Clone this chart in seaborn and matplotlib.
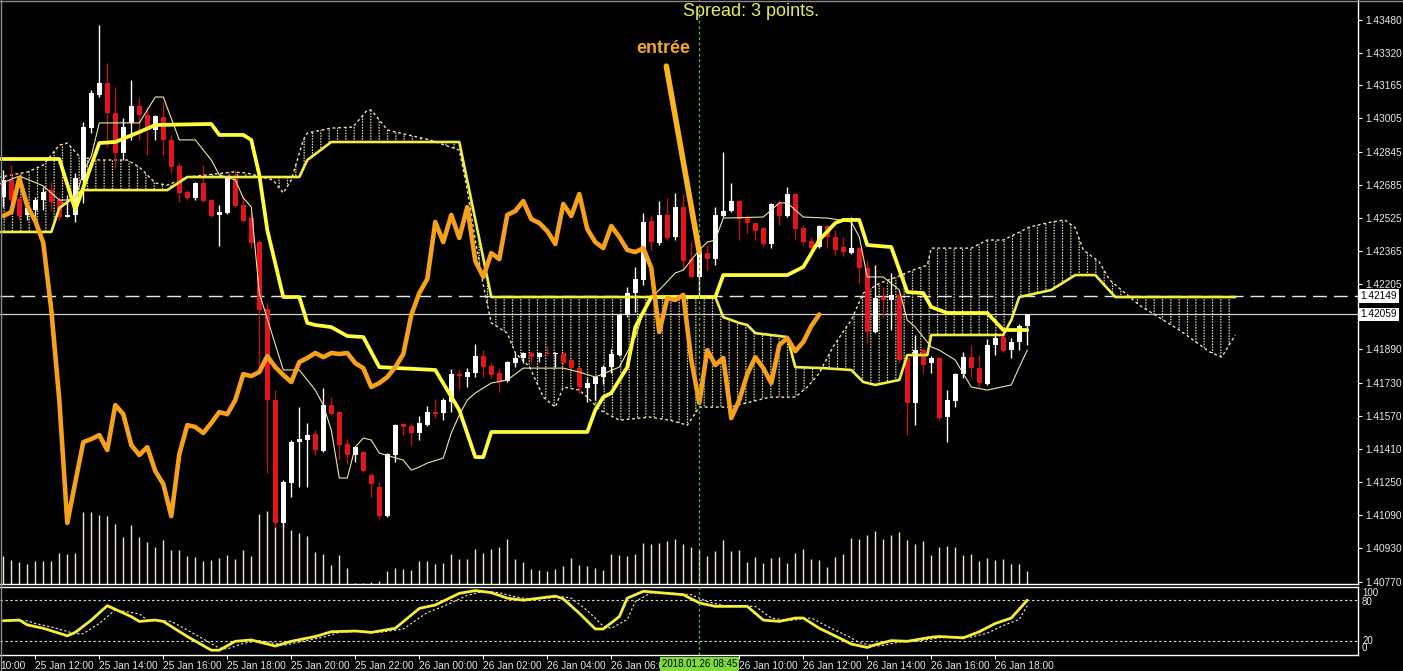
import numpy as np
import pandas as pd
import matplotlib
matplotlib.use("Agg")
import matplotlib.pyplot as plt
import matplotlib.transforms as mtransforms
from matplotlib.lines import Line2D
import seaborn as sns

# EURUSD-like 15 min bars, bar 0 = 25 Jan 11:00, bar 128 = 26 Jan 19:00
open_ = [1.42626, 1.42708, 1.42616, 1.42539, 1.42563, 1.42611, 1.42659, 1.42611, 1.42529, 1.42539,
         1.42708, 1.42958, 1.43118, 1.43176, 1.43031, 1.42838, 1.42983, 1.43065, 1.43021, 1.42949,
         1.43012, 1.42901, 1.42775, 1.42650, 1.42621, 1.42693, 1.42611, 1.42539, 1.42548, 1.42717,
         1.42587, 1.42524, 1.42408, 1.42085, 1.41646, 1.41053, 1.41246, 1.41443, 1.41453, 1.41482,
         1.41400, 1.41622, 1.41588, 1.41434, 1.41381, 1.41395, 1.41284, 1.41226, 1.41086, 1.41381,
         1.41530, 1.41521, 1.41487, 1.41525, 1.41588, 1.41583, 1.41636, 1.41771, 1.41757, 1.41776,
         1.41858, 1.41810, 1.41776, 1.41738, 1.41824, 1.41849, 1.41873, 1.41853, 1.41873, 1.41868,
         1.41873, 1.41839, 1.41800, 1.41704, 1.41723, 1.41757, 1.41805, 1.41863, 1.42056, 1.42162,
         1.42225, 1.42510, 1.42404, 1.42539, 1.42433, 1.42577, 1.42326, 1.42240, 1.42355, 1.42326,
         1.42534, 1.42558, 1.42606, 1.42524, 1.42500, 1.42476, 1.42399, 1.42592, 1.42534, 1.42640,
         1.42476, 1.42413, 1.42384, 1.42486, 1.42433, 1.42384, 1.42355, 1.42379, 1.42283, 1.41974,
         1.42143, 1.42129, 1.42153, 1.41849, 1.41632, 1.41887, 1.41824, 1.41849, 1.41564, 1.41641,
         1.41771, 1.41853, 1.41800, 1.41723, 1.41911, 1.41950, 1.41887, 1.41926, 1.42003]
high = [1.42756, 1.42780, 1.42626, 1.42597, 1.42626, 1.42674, 1.42698, 1.42626, 1.42635, 1.42741,
        1.42987, 1.43142, 1.43455, 1.43272, 1.43156, 1.43007, 1.43190, 1.43103, 1.43060, 1.43021,
        1.43084, 1.42925, 1.42790, 1.42659, 1.42698, 1.42780, 1.42616, 1.42587, 1.42722, 1.42756,
        1.42635, 1.42548, 1.42418, 1.42114, 1.41694, 1.41260, 1.41453, 1.41612, 1.41535, 1.41501,
        1.41704, 1.41660, 1.41593, 1.41458, 1.41424, 1.41400, 1.41294, 1.41250, 1.41390, 1.41530,
        1.41535, 1.41535, 1.41569, 1.41617, 1.41651, 1.41656, 1.41796, 1.41791, 1.41800, 1.41916,
        1.41887, 1.41824, 1.41800, 1.41834, 1.41873, 1.41878, 1.41882, 1.41878, 1.41907, 1.41878,
        1.41878, 1.41849, 1.41805, 1.41752, 1.41762, 1.41815, 1.41892, 1.42061, 1.42191, 1.42288,
        1.42548, 1.42539, 1.42606, 1.42621, 1.42645, 1.42640, 1.42408, 1.42384, 1.42394, 1.42577,
        1.42843, 1.42693, 1.42611, 1.42539, 1.42505, 1.42481, 1.42597, 1.42611, 1.42674, 1.42645,
        1.42490, 1.42433, 1.42490, 1.42490, 1.42466, 1.42433, 1.42529, 1.42384, 1.42321, 1.42297,
        1.42191, 1.42259, 1.42177, 1.41853, 1.41960, 1.41897, 1.41858, 1.41858, 1.41694, 1.41776,
        1.41878, 1.41911, 1.41863, 1.41940, 1.41969, 1.41969, 1.41945, 1.42013, 1.42061]
low = [1.42577, 1.42597, 1.42515, 1.42515, 1.42515, 1.42563, 1.42563, 1.42515, 1.42529, 1.42505,
       1.42597, 1.42934, 1.43108, 1.42867, 1.42765, 1.42804, 1.42901, 1.42901, 1.42828, 1.42901,
       1.42828, 1.42741, 1.42601, 1.42611, 1.42611, 1.42601, 1.42529, 1.42389, 1.42543, 1.42577,
       1.42505, 1.42379, 1.41791, 1.41294, 1.41033, 1.41033, 1.41178, 1.41226, 1.41226, 1.41381,
       1.41395, 1.41573, 1.41356, 1.41337, 1.41347, 1.41298, 1.41178, 1.41072, 1.41081, 1.41347,
       1.41477, 1.41429, 1.41453, 1.41520, 1.41559, 1.41549, 1.41588, 1.41699, 1.41709, 1.41757,
       1.41757, 1.41752, 1.41685, 1.41733, 1.41805, 1.41824, 1.41824, 1.41829, 1.41863, 1.41805,
       1.41815, 1.41791, 1.41680, 1.41636, 1.41646, 1.41723, 1.41776, 1.41858, 1.42046, 1.42071,
       1.42201, 1.42370, 1.42394, 1.42418, 1.42418, 1.42273, 1.42235, 1.42138, 1.42273, 1.42297,
       1.42529, 1.42553, 1.42418, 1.42452, 1.42418, 1.42389, 1.42379, 1.42490, 1.42529, 1.42423,
       1.42394, 1.42374, 1.42379, 1.42379, 1.42346, 1.42341, 1.42350, 1.42211, 1.41921, 1.41969,
       1.42046, 1.41984, 1.41824, 1.41477, 1.41525, 1.41776, 1.41776, 1.41549, 1.41443, 1.41612,
       1.41752, 1.41757, 1.41709, 1.41719, 1.41863, 1.41878, 1.41849, 1.41887, 1.41911]
close = [1.42708, 1.42611, 1.42534, 1.42572, 1.42611, 1.42650, 1.42601, 1.42529, 1.42539, 1.42717,
         1.42963, 1.43127, 1.43176, 1.43031, 1.42838, 1.42963, 1.43065, 1.43021, 1.42949, 1.43016,
         1.42901, 1.42770, 1.42645, 1.42621, 1.42693, 1.42606, 1.42534, 1.42553, 1.42717, 1.42582,
         1.42510, 1.42404, 1.42080, 1.41646, 1.41053, 1.41250, 1.41443, 1.41458, 1.41477, 1.41405,
         1.41622, 1.41578, 1.41429, 1.41381, 1.41419, 1.41303, 1.41241, 1.41086, 1.41385, 1.41525,
         1.41516, 1.41487, 1.41535, 1.41588, 1.41578, 1.41646, 1.41771, 1.41762, 1.41781, 1.41858,
         1.41805, 1.41767, 1.41733, 1.41829, 1.41849, 1.41873, 1.41853, 1.41873, 1.41868, 1.41873,
         1.41824, 1.41800, 1.41709, 1.41728, 1.41757, 1.41805, 1.41868, 1.42056, 1.42162, 1.42230,
         1.42505, 1.42408, 1.42539, 1.42428, 1.42577, 1.42317, 1.42240, 1.42355, 1.42326, 1.42539,
         1.42558, 1.42606, 1.42519, 1.42500, 1.42461, 1.42399, 1.42592, 1.42534, 1.42640, 1.42471,
         1.42408, 1.42379, 1.42486, 1.42433, 1.42370, 1.42360, 1.42379, 1.42283, 1.41974, 1.42138,
         1.42129, 1.42153, 1.41839, 1.41632, 1.41887, 1.41815, 1.41849, 1.41559, 1.41646, 1.41771,
         1.41853, 1.41800, 1.41728, 1.41911, 1.41945, 1.41882, 1.41926, 1.42003, 1.42059]
tick_volume = [280, 240, 220, 200, 230, 230, 230, 310, 300, 310,
               720, 720, 690, 680, 600, 470, 590, 470, 420, 370,
               440, 340, 340, 280, 270, 230, 240, 260, 290, 250,
               340, 280, 700, 730, 570, 600, 540, 510, 480, 320,
               300, 190, 290, 160, 5, 10, 20, 30, 130, 160,
               150, 140, 230, 230, 200, 210, 300, 250, 250, 350,
               310, 350, 370, 450, 250, 220, 150, 140, 130, 150,
               180, 260, 190, 180, 160, 140, 300, 290, 280, 300,
               410, 400, 410, 430, 450, 400, 370, 340, 280, 330,
               440, 330, 340, 220, 270, 210, 260, 270, 210, 310,
               350, 250, 240, 170, 270, 300, 460, 450, 490, 530,
               450, 490, 520, 440, 400, 430, 290, 370, 380, 370,
               290, 300, 230, 260, 240, 250, 200, 200, 130]

# Ichimoku lines (bar index, price)
tenkan_x = [-1, 2, 5, 7, 9, 10, 11, 12, 17, 19, 20, 22, 24, 26, 27, 29, 30, 31, 32, 35,
            37, 39, 40, 41, 42, 43, 44, 45, 46, 47, 50, 51, 52, 53, 55, 56, 57, 58, 59, 61,
            63, 65, 70, 72, 74, 77, 79, 80, 81, 82, 84, 85, 87, 88, 89, 90, 95, 96, 97, 98,
            100, 103, 106, 107, 108, 110, 112, 113, 114, 116, 117, 119, 121, 123, 126, 127, 128]
tenkan = [1.42679, 1.42727, 1.42679, 1.42611, 1.42611, 1.42746, 1.42823, 1.42983, 1.42983, 1.43108,
          1.43108, 1.42901, 1.42901, 1.42804, 1.42732, 1.42708, 1.42621, 1.42577, 1.42162, 1.41791,
          1.41791, 1.41694, 1.41622, 1.41501, 1.41270, 1.41270, 1.41419, 1.41463, 1.41453, 1.41390,
          1.41356, 1.41308, 1.41323, 1.41342, 1.41366, 1.41487, 1.41574, 1.41646, 1.41680, 1.41728,
          1.41743, 1.41800, 1.41800, 1.41781, 1.41757, 1.41805, 1.41950, 1.42066, 1.42143, 1.42177,
          1.42259, 1.42273, 1.42370, 1.42408, 1.42418, 1.42524, 1.42529, 1.42563, 1.42597, 1.42597,
          1.42529, 1.42524, 1.42505, 1.42433, 1.42240, 1.42240, 1.42177, 1.42032, 1.41998, 1.41902,
          1.41887, 1.41839, 1.41709, 1.41694, 1.41719, 1.41805, 1.41887]

kijun_x = [-1, 7, 9, 12, 14, 17, 19, 26, 27, 30, 31, 32, 33, 35, 37, 38, 39, 41, 43, 45,
           47, 54, 57, 59, 60, 61, 73, 74, 75, 76, 78, 79, 81, 89, 90, 98, 100, 102, 104, 105,
           107, 108, 111, 113, 115, 116, 118, 123, 125, 128]
kijun = [1.42809, 1.42809, 1.42563, 1.42886, 1.42891, 1.42939, 1.42973, 1.42978, 1.42925, 1.42925,
         1.42901, 1.42732, 1.42466, 1.42143, 1.42143, 1.42018, 1.42008, 1.41998, 1.41955, 1.41950,
         1.41805, 1.41791, 1.41598, 1.41371, 1.41371, 1.41492, 1.41492, 1.41598, 1.41660, 1.41680,
         1.41805, 1.41998, 1.42143, 1.42143, 1.42249, 1.42249, 1.42288, 1.42418, 1.42500, 1.42515,
         1.42515, 1.42394, 1.42384, 1.42167, 1.42162, 1.42095, 1.42066, 1.42066, 1.41984, 1.41984]

span_a_x = [-1, 3, 5, 7, 8, 9.6, 12, 15.5, 17, 19, 20.5, 23, 28.7, 30.5, 33.7, 35, 36, 37.5, 38, 41,
            43.7, 45.5, 46, 48, 49.6, 53.3, 57, 58, 59, 60, 61, 63, 64, 65.8, 67.5, 69, 70, 72, 73, 74.6,
            77, 80.8, 83.3, 85.5, 87, 90.8, 95.8, 99, 100.5, 102, 103.7, 106, 107.5, 109.6, 111.7, 113.7,
            115.5, 116, 121, 123, 125, 128.3, 131, 132.7, 134, 135, 137, 138.3, 142, 147, 150.8, 152.3, 154]
span_a = [1.42717, 1.42746, 1.42780, 1.42876, 1.42886, 1.42818, 1.42804, 1.42804, 1.42770, 1.42693,
          1.42683, 1.42722, 1.42746, 1.42741, 1.42708, 1.42645, 1.42708, 1.42901, 1.42934, 1.42958,
          1.42963, 1.43045, 1.43045, 1.42949, 1.42934, 1.42901, 1.42852, 1.42659, 1.42418, 1.42201,
          1.42018, 1.41969, 1.41873, 1.41805, 1.41660, 1.41612, 1.41709, 1.41694, 1.41660, 1.41598,
          1.41549, 1.41564, 1.41549, 1.41525, 1.41612, 1.41612, 1.41660, 1.41660, 1.41709, 1.41776,
          1.41902, 1.42032, 1.42162, 1.42211, 1.42240, 1.42273,
          1.42297, 1.42379, 1.42379, 1.42418, 1.42418, 1.42481, 1.42505, 1.42515, 1.42476, 1.42370,
          1.42312, 1.42225, 1.42104, 1.41984, 1.41878, 1.41853, 1.41960]

span_b_x = [-1, 6, 7, 10, 20.5, 23, 37, 38, 41, 57, 61, 89, 90, 92, 93, 94, 98, 99, 102.5, 106,
            107.5, 109, 112, 113, 115.5, 116, 125, 126, 127, 131, 134, 136.5, 139, 154]
span_b = [1.42457, 1.42457, 1.42572, 1.42659, 1.42659, 1.42722, 1.42722, 1.42804, 1.42891, 1.42891,
          1.42143, 1.42143, 1.42046, 1.42018, 1.42008, 1.41969, 1.41950, 1.41805, 1.41800, 1.41791,
          1.41733, 1.41719, 1.41743, 1.41863, 1.41863, 1.41960, 1.41960, 1.42032, 1.42143, 1.42177,
          1.42249, 1.42249, 1.42143, 1.42143]

# Stochastic (main and signal)
stoch_x = [0, 2, 3, 5, 8, 9, 11, 13, 16, 17, 19, 20, 23, 26, 27, 29, 31, 33, 34, 36,
           39, 41, 44, 46, 49, 52, 54, 57, 59, 61, 63, 65, 69, 70, 72, 74, 75, 77, 78, 80,
           82, 85, 87, 89, 93, 95, 97, 99, 100, 102, 105, 106, 108, 109, 111, 113, 116, 117, 120, 122,
           124, 126, 128]
stoch_k = [50, 51, 44, 39, 28, 33, 51, 72, 56, 49, 51, 49, 27, 7, 7, 20, 22, 16, 13, 20,
           27, 34, 35, 33, 39, 68, 73, 90, 94, 91, 83, 80, 86, 82, 61, 38, 38, 56, 83, 93,
           91, 88, 76, 71, 71, 51, 49, 54, 54, 39, 22, 16, 11, 15, 21, 20, 26, 27, 25, 34,
           46, 54, 80]
signal_x = [0, 3, 4, 6, 9, 10, 12, 14, 17, 18, 20, 21, 24, 27, 28, 30, 32, 34, 35, 37,
            40, 42, 45, 47, 50, 53, 55, 58, 60, 62, 64, 66, 70, 71, 73, 75, 76, 78, 79, 81,
            83, 86, 88, 90, 94, 96, 98, 100, 101, 103, 106, 107, 109, 110, 112, 114, 117, 118, 121, 123,
            125, 127, 128]
stoch_d = [50, 50, 46, 41, 31, 31, 46, 66, 60, 51, 50, 49, 30, 10, 9, 17, 21, 17, 14, 19,
           26, 33, 35, 33, 38, 62, 71, 87, 93, 91, 85, 81, 85, 83, 65, 42, 39, 52, 78, 91,
           91, 88, 78, 72, 71, 54, 50, 53, 54, 42, 25, 18, 13, 14, 19, 20, 25, 27, 26, 32,
           43, 52, 72]

price_ticks = [1.43480, 1.43320, 1.43165, 1.43005, 1.42845, 1.42685, 1.42525, 1.42365, 1.42205,
               1.41890, 1.41730, 1.41570, 1.41410, 1.41250, 1.41090, 1.40930, 1.40770]
time_ticks = [4, 12, 20, 28, 36, 44, 52, 60, 68, 76, 92, 100, 108, 116, 124]
time_labels = ["25 Jan 12:00", "25 Jan 14:00", "25 Jan 16:00", "25 Jan 18:00", "25 Jan 20:00",
               "25 Jan 22:00", "26 Jan 00:00", "26 Jan 02:00", "26 Jan 04:00", "26 Jan 06:00",
               "26 Jan 10:00", "26 Jan 12:00", "26 Jan 14:00", "26 Jan 16:00", "26 Jan 18:00"]

ask_level = 1.42149
bid_level = 1.42059
cursor_bar = 87

df = pd.DataFrame({"open": open_, "high": high, "low": low, "close": close, "vol": tick_volume})
df["bar"] = np.arange(len(df))

W, H = 1403, 671
sns.set_style("dark", {"axes.facecolor": "black", "figure.facecolor": "black",
                       "axes.edgecolor": "white", "text.color": "white"})
plt.rcParams["font.family"] = ["Liberation Sans", "DejaVu Sans"]
plt.rcParams["hatch.linewidth"] = 0.9


def px_rect(x0, y0, x1, y1):
    return [x0 / W, 1 - y1 / H, (x1 - x0) / W, (y1 - y0) / H]


fig = plt.figure(figsize=(W / 100, H / 100), dpi=100, facecolor="black")
ax_vol = fig.add_axes(px_rect(0, 0, 1358, 583.5))
ax = fig.add_axes(px_rect(0, 0, 1358, 583.5))
ax_st = fig.add_axes(px_rect(0, 586.5, 1358, 655))
ax.patch.set_alpha(0)

xlim = (-0.4125, 169.34)

# volume
ax_vol.vlines(df["bar"], 0, df["vol"], color="#EDE8C2", lw=1)
ax_vol.set_xlim(xlim)
ax_vol.set_ylim(0, 5835)
ax_vol.axis("off")

# cloud: vertical hatch, broken into dots by a black horizontal hatch
cloud_x = np.r_[span_a_x, span_b_x[::-1]]
cloud_y = np.r_[span_a, span_b[::-1]]
ax.fill(cloud_x, cloud_y, facecolor="none", edgecolor="#E6E1A8", lw=0, hatch="||", zorder=1)
ax.fill(cloud_x, cloud_y, facecolor="none", edgecolor="black", lw=0, hatch="------", zorder=1.5)
ax.plot(span_a_x, span_a, color="#EDE8B0", lw=1, ls=(0, (2, 2)), zorder=2)

# candles
up = df["close"] >= df["open"]
body_lo = np.minimum(df["open"], df["close"])
body_h = np.maximum((df["close"] - df["open"]).abs(), 0.00003)
ax.vlines(df["bar"][up], df["low"][up], df["high"][up], color="white", lw=1, zorder=3)
ax.vlines(df["bar"][~up], df["low"][~up], df["high"][~up], color="#B81515", lw=1, zorder=3)
ax.bar(df["bar"][up], body_h[up], bottom=body_lo[up], width=0.62, color="white", lw=0, zorder=4)
ax.bar(df["bar"][~up], body_h[~up], bottom=body_lo[~up], width=0.62, color="#E3151B", lw=0, zorder=4)

# ichimoku lines
sns.lineplot(x=span_b_x, y=span_b, ax=ax, color="#F2EE45", linewidth=1.9, estimator=None, zorder=5)
sns.lineplot(x=tenkan_x, y=tenkan, ax=ax, color="#EEE7A2", linewidth=0.8, estimator=None, zorder=5)
sns.lineplot(x=kijun_x, y=kijun, ax=ax, color="#FFFF3A", linewidth=2.7, estimator=None, zorder=6)
chikou = df["close"].to_numpy()[26:]
sns.lineplot(x=np.arange(len(chikou)), y=chikou, ax=ax, color="#F5A11C", linewidth=3.3,
             estimator=None, zorder=6)

# price lines and cursor
ax.axhline(ask_level, color="#E6E6E6", lw=1, ls=(0, (10, 5)), zorder=2.5)
ax.axhline(bid_level, color="#D0D0D0", lw=0.9, zorder=2.5)
ax.axvline(cursor_bar, color="#5DBE37", lw=0.9, ls=(0, (2.2, 2.2)), zorder=7)

ax.set_xlim(xlim)
ax.set_ylim(1.40761, 1.43576)
ax.set_xlabel("")
ax.set_ylabel("")
ax.yaxis.tick_right()
ax.set_yticks(price_ticks)
ax.set_yticklabels([f"{v:.5f}" for v in price_ticks])
ax.tick_params(axis="y", left=False, right=True, direction="out", length=3, width=0.8,
               color="white", labelcolor="#EAEAEA", labelsize=7.3, pad=2)
ax.tick_params(axis="x", bottom=False, labelbottom=False)
for s in ["left", "top"]:
    ax.spines[s].set_visible(False)
for s in ["right", "bottom"]:
    ax.spines[s].set_color("white")
    ax.spines[s].set_linewidth(1)

ytrans = mtransforms.blended_transform_factory(ax.transAxes, ax.transData)
for lvl in [ask_level, bid_level]:
    ax.text(1.002, lvl, f"{lvl:.5f}", transform=ytrans, ha="left", va="center", color="black",
            fontsize=7.3, zorder=10, bbox=dict(facecolor="white", edgecolor="none", pad=1.3))

ax.annotate("entrée", xy=(cursor_bar, 1.42360), xytext=(82.5, 1.43340), ha="center", va="center",
            color="#F5A623", fontsize=13, fontweight="bold", zorder=8,
            arrowprops=dict(arrowstyle="-", color="#FBB41E", lw=4, shrinkA=4, shrinkB=0))

# stochastic panel
sns.lineplot(x=stoch_x, y=stoch_k, ax=ax_st, color="#F4EE3A", linewidth=2, estimator=None, zorder=3)
sns.lineplot(x=signal_x, y=stoch_d, ax=ax_st, color="#F5F2C6", linewidth=0.8, estimator=None, zorder=2)
ax_st.lines[-1].set_linestyle((0, (2, 2)))
for lvl in [20, 80]:
    ax_st.axhline(lvl, color="#D8D8D8", lw=0.8, ls=(0, (2.2, 2.2)), zorder=1)
ax_st.axvline(cursor_bar, color="#5DBE37", lw=0.9, ls=(0, (2.2, 2.2)), zorder=4)
ax_st.set_xlim(xlim)
ax_st.set_ylim(0, 100)
ax_st.set_xlabel("")
ax_st.set_ylabel("")
ax_st.set_yticks([])
ax_st.set_xticks(time_ticks)
ax_st.set_xticklabels(time_labels, ha="left")
ax_st.tick_params(axis="x", bottom=True, direction="out", length=3, width=0.8, color="white",
                  labelcolor="#E6E6E6", labelsize=7.3, pad=1)
ax_st.spines["left"].set_visible(False)
for s in ["right", "top", "bottom"]:
    ax_st.spines[s].set_color("white")
    ax_st.spines[s].set_linewidth(1)

strans = mtransforms.blended_transform_factory(ax_st.transAxes, ax_st.transData)
for txt, yv in [("100", 91), ("80", 77), ("20", 20), ("0", 9.5)]:
    ax_st.text(1.003, yv, txt, transform=strans, ha="left", va="center", color="#EAEAEA", fontsize=7)

# left-most time label, only its time part is inside the window
btrans = mtransforms.blended_transform_factory(ax_st.transAxes, ax_st.transAxes)
ax_st.text(0.0005, -0.09, "10:00", transform=btrans, ha="left", va="top", color="#E6E6E6",
           fontsize=7.3, clip_on=False)
ctrans = mtransforms.blended_transform_factory(ax_st.transData, ax_st.transAxes)
ax_st.text(cursor_bar, -0.06, "2018.01.26 08:45", transform=ctrans, ha="center", va="top",
           color="black", fontsize=7, zorder=10,
           bbox=dict(facecolor="#7EDC3A", edgecolor="none", pad=1.2))

fig.text(751 / W, 1 - 15.5 / H, "Spread: 3 points.", ha="center", va="baseline",
         color="#E4EC5C", fontsize=13)

# window frame
fig.add_artist(Line2D([0, 1], [1 - 0.5 / H, 1 - 0.5 / H], transform=fig.transFigure, color="#8C8C8C", lw=1))
fig.add_artist(Line2D([0.5 / W, 0.5 / W], [0, 1], transform=fig.transFigure, color="#8C8C8C", lw=1))

fig.savefig("out.png", dpi=100, facecolor="black")
